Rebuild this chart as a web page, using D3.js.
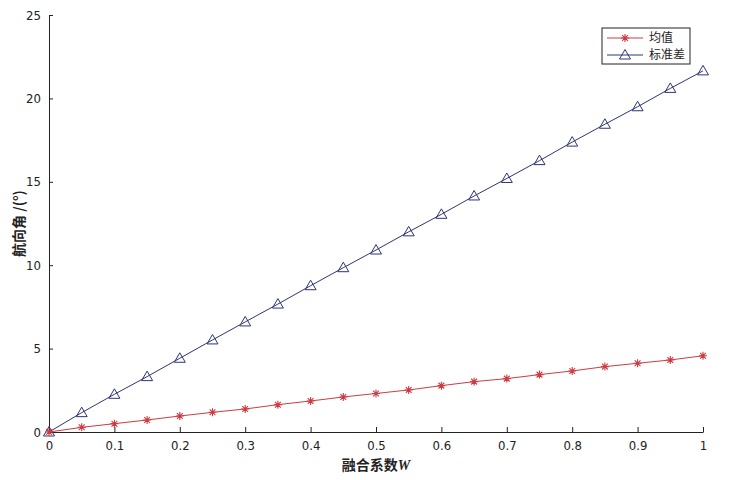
<!DOCTYPE html>
<html>
<head>
<meta charset="utf-8">
<script src="https://cdn.jsdelivr.net/npm/d3@7"></script>
<style>
  body { margin: 0; background: #fff; }
  svg { display: block; }
  .tick text { font-family: "DejaVu Sans Condensed", "Liberation Sans Narrow", "Liberation Sans", Arial, sans-serif; font-size: 13px; fill: #222; }
</style>
</head>
<body>
<svg id="chart" width="736" height="480"></svg>
<script>
(function(){
    "use strict";

    // fusion coefficient W
    var wValues = [0, 0.05, 0.1, 0.15, 0.2, 0.25, 0.3, 0.35, 0.4, 0.45, 0.5,
                   0.55, 0.6, 0.65, 0.7, 0.75, 0.8, 0.85, 0.9, 0.95, 1];
    // mean of heading angle
    var meanValues = [0, 0.28, 0.5, 0.72, 0.96, 1.18, 1.38, 1.64, 1.86, 2.1, 2.31,
                      2.52, 2.78, 3.02, 3.2, 3.44, 3.66, 3.92, 4.12, 4.32, 4.57];
    // standard deviation of heading angle
    var stdValues = [0, 1.16, 2.26, 3.32, 4.42, 5.52, 6.6, 7.67, 8.77, 9.85, 10.91,
                     12.0, 13.05, 14.15, 15.2, 16.27, 17.38, 18.45, 19.5, 20.6, 21.65];

    var xTicks = [0, 0.1, 0.2, 0.3, 0.4, 0.5, 0.6, 0.7, 0.8, 0.9, 1];
    var yTicks = [0, 5, 10, 15, 20, 25];
    var seriesNames = ["均值", "标准差"];

    var margin = {left: 49, right: 33, top: 15, bottom: 48};
    var width = 736, height = 480;

    var svg = d3.select("#chart");

    var x = d3.scaleLinear().domain([0, 1]).range([margin.left, width - margin.right]);
    var y = d3.scaleLinear().domain([0, 25]).range([height - margin.bottom, margin.top]);

    var xAxis = d3.axisBottom(x).tickValues(xTicks).tickSizeInner(-5).tickSizeOuter(0).tickPadding(9)
        .tickFormat(function(d){ return d === 0 || d === 1 ? d3.format("d")(d) : d3.format(".1f")(d); });
    var yAxis = d3.axisLeft(y).tickValues(yTicks).tickSizeInner(-4).tickSizeOuter(0).tickPadding(8);

    svg.append("g")
        .attr("transform", "translate(0," + y(0) + ")")
        .call(xAxis)
        .call(function(g){ g.selectAll("path, line").attr("stroke", "#222"); });

    svg.append("g")
        .attr("transform", "translate(" + x(0) + ",0)")
        .call(yAxis)
        .call(function(g){ g.selectAll("path, line").attr("stroke", "#222"); });

    var series = [
        {name: seriesNames[0], values: meanValues, color: "#cf3a42", marker: "star"},
        {name: seriesNames[1], values: stdValues, color: "#2f3475", marker: "tri"}
    ];

    var line = d3.line()
        .x(function(d, i){ return x(wValues[i]); })
        .y(function(d){ return y(d); });

    function drawMarker(g, type, color){
        if(type === "star"){
            var r = 4;
            g.append("path")
                .attr("d", "M" + (-r) + ",0H" + r + "M0," + (-r) + "V" + r +
                    "M" + (-r * 0.72) + "," + (-r * 0.72) + "L" + (r * 0.72) + "," + (r * 0.72) +
                    "M" + (-r * 0.72) + "," + (r * 0.72) + "L" + (r * 0.72) + "," + (-r * 0.72))
                .attr("stroke", color)
                .attr("stroke-width", 1.1)
                .attr("fill", "none");
        } else {
            g.append("path")
                .attr("d", "M0,-5.5L5.5,4L-5.5,4Z")
                .attr("stroke", color)
                .attr("stroke-width", 1)
                .attr("fill", "none");
        }
    }

    // std line drawn first, mean on top
    [series[1], series[0]].forEach(function(s){
        svg.append("path")
            .datum(s.values)
            .attr("d", line)
            .attr("fill", "none")
            .attr("stroke", s.color)
            .attr("stroke-width", 1);

        svg.append("g").selectAll("g")
            .data(s.values)
            .enter().append("g")
            .attr("transform", function(d, i){
                return "translate(" + x(wValues[i]) + "," + y(d) + ")";
            })
            .each(function(){ drawMarker(d3.select(this), s.marker, s.color); });
    });

    // axis labels
    svg.append("text")
        .attr("x", x(0.5))
        .attr("y", 470)
        .attr("text-anchor", "middle")
        .attr("font-family", "'Noto Sans CJK SC', sans-serif")
        .attr("font-weight", "bold")
        .attr("font-size", 14)
        .attr("fill", "#222")
        .text("融合系数")
        .append("tspan")
        .attr("font-family", "'Liberation Serif', serif")
        .attr("font-style", "italic")
        .text("W");

    svg.append("text")
        .attr("transform", "translate(24," + y(12.5) + ") rotate(-90)")
        .attr("text-anchor", "middle")
        .attr("font-family", "'Noto Sans CJK SC', sans-serif")
        .attr("font-weight", "bold")
        .attr("font-size", 14)
        .attr("fill", "#222")
        .text("航向角 /(°)");

    // legend
    var legend = svg.append("g").attr("transform", "translate(602,28)");
    legend.append("rect")
        .attr("width", 88)
        .attr("height", 36)
        .attr("fill", "#fff")
        .attr("stroke", "#222")
        .attr("stroke-width", 1);

    series.forEach(function(s, i){
        var row = legend.append("g").attr("transform", "translate(0," + (10 + i * 17) + ")");
        row.append("line")
            .attr("x1", 5).attr("x2", 41)
            .attr("stroke", s.color).attr("stroke-width", 1);
        drawMarker(row.append("g").attr("transform", "translate(23,0)"), s.marker, s.color);
        row.append("text")
            .attr("x", 47)
            .attr("dy", "0.35em")
            .attr("font-family", "'Noto Sans CJK SC', sans-serif")
            .attr("font-size", 12)
            .attr("fill", "#222")
            .text(s.name);
    });
}());
</script>
</body>
</html>
